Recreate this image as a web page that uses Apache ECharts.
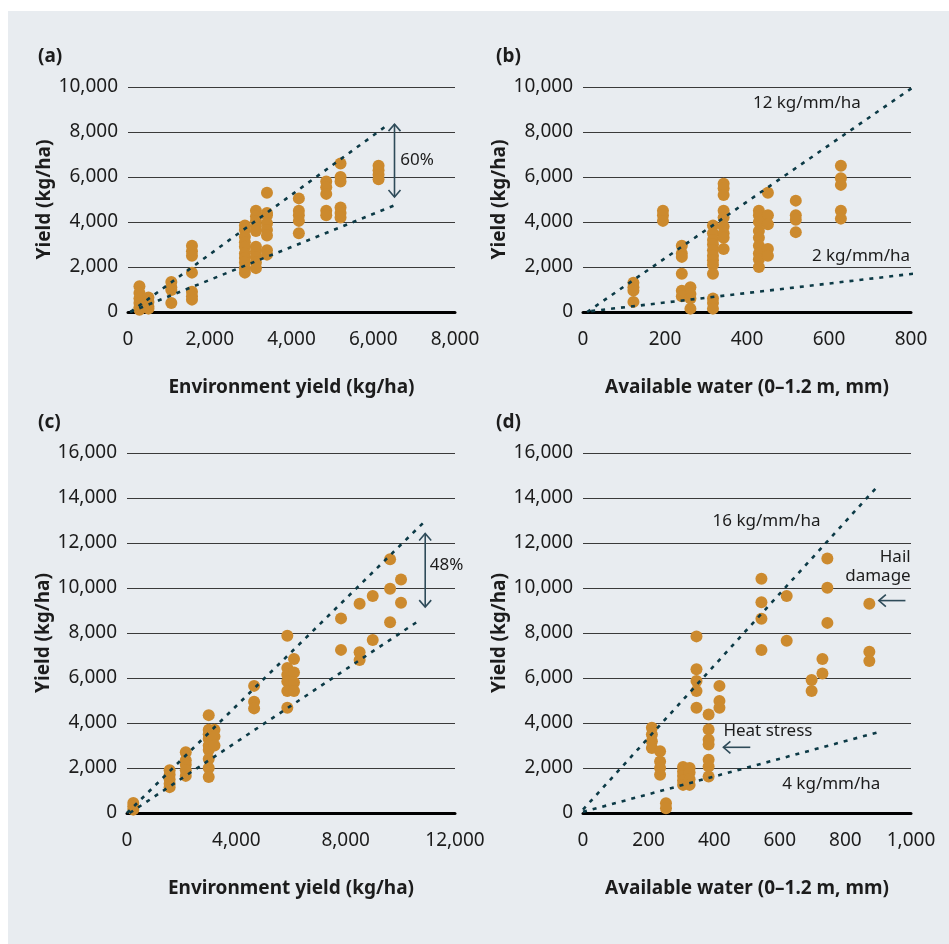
<!DOCTYPE html>
<html><head><meta charset="utf-8">
<script src="https://cdn.jsdelivr.net/npm/echarts@6/dist/echarts.min.js"></script>
<style>
html,body{margin:0;padding:0;background:#fff;}
#bg{position:absolute;left:8px;top:11px;width:941px;height:933px;background:#e8ecf0;}
#c{position:absolute;left:0;top:0;width:949px;height:944px;}
</style>
</head><body><div id="bg"></div><div id="c"></div>
<script>
// ---- Panel (a): environment yield vs yield ----
const aX = [280, 500, 1060, 1565, 2860, 3130, 3400, 4180, 4850, 5200, 6130];
const aY = [
  [1150, 850, 600, 400, 200, 100],
  [650, 450, 250, 150],
  [1330, 1100, 980, 400],
  [2950, 2700, 2500, 1750, 900, 700, 550],
  [3850, 3650, 3350, 3100, 2900, 2600, 2400, 2200, 1950, 1750],
  [4500, 4250, 4050, 3800, 3600, 2900, 2700, 2450, 2200, 1950],
  [5300, 4400, 4300, 3950, 3650, 3400, 2750, 2550],
  [5050, 4500, 4300, 4050, 3500],
  [5800, 5550, 5250, 4500, 4300],
  [6600, 6000, 5800, 4650, 4400, 4200],
  [6500, 6300, 6100, 5900]
];
const aUpper = [[60, 0], [6350, 8310]];
const aLower = [[50, 0], [6550, 4760]];

// ---- Panel (b): available water vs yield ----
const bX = [123, 195, 241, 262, 317, 343, 429, 451, 519, 629];
const bY = [
  [1300, 1100, 950, 450],
  [4500, 4300, 4050],
  [2950, 2600, 2450, 1700, 950, 700],
  [1100, 800, 600, 150],
  [3850, 3500, 3200, 3000, 2750, 2500, 2300, 2100, 1700, 600, 400, 150],
  [5700, 5500, 5200, 4500, 4200, 3800, 3500, 3300, 2800],
  [4500, 4300, 4000, 3600, 3300, 2950, 2600, 2350, 2000],
  [5300, 4300, 3900, 2800, 2500],
  [4950, 4300, 4100, 3550],
  [6500, 5950, 5650, 4500, 4150]
];
const bUpper = [[10, 0], [805, 9990]];
const bLower = [[20, 40], [805, 1700]];

// ---- Panel (c): environment yield vs yield ----
const cX = [230, 1560, 2150, 2990, 3200, 4650, 5865, 6110, 7830, 8510, 8990, 9625, 10025];
const cY = [
  [450, 300, 150],
  [1900, 1700, 1500, 1300, 1150],
  [2700, 2350, 2150, 1900, 1650],
  [4350, 3700, 3500, 3300, 3000, 2800, 2400, 2000, 1600],
  [3700, 3400, 3000],
  [5650, 4950, 4650],
  [7880, 6450, 6150, 5850, 5420, 4680],
  [6840, 6240, 5800, 5420],
  [8650, 7250],
  [9300, 7140, 6800],
  [9640, 7690],
  [11280, 9970, 8480],
  [10380, 9340]
];
const cUpper = [[0, 0], [10900, 12970]];
const cLower = [[100, 0], [10720, 8580]];

// ---- Panel (d): available water vs yield ----
const dX = [210, 235, 253, 305, 325, 346, 383, 416, 544, 621, 697, 730, 745, 873];
const dY = [
  [3790, 3490, 3190, 2890],
  [2740, 2290, 2000, 1700],
  [430, 210],
  [2050, 1850, 1650, 1450, 1250],
  [2000, 1800, 1500, 1250],
  [7850, 6390, 5870, 5420, 4680],
  [4380, 3710, 3260, 3040, 2370, 2070, 1620],
  [5650, 4980, 4680],
  [10410, 9370, 8630, 7240],
  [9640, 7660],
  [5910, 5420],
  [6840, 6200],
  [11310, 10010, 8450],
  [9300, 7170, 6760]
];
const dUpper = [[0, 150], [898, 14520]];
const dLower = [[0, 50], [896, 3575]];

const panelLabels = ['(a)', '(b)', '(c)', '(d)'];
const xNames = ['Environment yield (kg/ha)', 'Available water (0\u20131.2 m, mm)', 'Environment yield (kg/ha)', 'Available water (0\u20131.2 m, mm)'];
const yName = 'Yield (kg/ha)';

function pairs(xs, ys) {
  const out = [];
  xs.forEach((x, i) => ys[i].forEach(y => out.push([x, y])));
  return out;
}

const FONT = 'Noto Sans';
const TXT = '#1c1c1c';
const DOT = '#cc8a2e';
const DASH = '#0c3a46';
const fmt = v => v.toLocaleString('en-US');

const grids = [
  {left: 128, top: 87, width: 327, height: 225},
  {left: 583, top: 87, width: 328, height: 225},
  {left: 127, top: 453, width: 328, height: 360},
  {left: 583, top: 453, width: 328, height: 360}
];
const xCfg = [
  {max: 8000, interval: 2000},
  {max: 800, interval: 200},
  {max: 12000, interval: 4000},
  {max: 1000, interval: 200}
];
const yCfg = [{max: 10000}, {max: 10000}, {max: 16000}, {max: 16000}];

const xAxes = xCfg.map((c, i) => ({
  type: 'value', gridIndex: i, min: 0, max: c.max, interval: c.interval,
  name: xNames[i], nameLocation: 'middle', nameGap: 66,
  nameTextStyle: {fontFamily: FONT, fontSize: 19, fontWeight: 'bold', color: TXT},
  axisLine: {show: true, onZero: false, lineStyle: {color: '#000', width: 3}},
  axisTick: {show: false},
  splitLine: {show: false},
  axisLabel: {fontFamily: FONT, fontSize: 19, color: TXT, margin: 18, formatter: fmt, showMaxLabel: true}
}));
const yAxes = yCfg.map((c, i) => ({
  type: 'value', gridIndex: i, min: 0, max: c.max, interval: 2000,
  name: yName, nameLocation: 'middle', nameGap: 74, nameRotate: 90,
  nameTextStyle: {fontFamily: FONT, fontSize: 19, fontWeight: 'bold', color: TXT},
  axisLine: {show: false}, axisTick: {show: false},
  splitLine: {show: true, lineStyle: {color: '#3a3a3a', width: 1}},
  axisLabel: {fontFamily: FONT, fontSize: 19, color: TXT, margin: 10, formatter: fmt}
}));

const scatterSets = [pairs(aX, aY), pairs(bX, bY), pairs(cX, cY), pairs(dX, dY)];
const lineSets = [[aUpper, aLower], [bUpper, bLower], [cUpper, cLower], [dUpper, dLower]];

const series = [];
scatterSets.forEach((d, i) => {
  series.push({
    type: 'scatter', xAxisIndex: i, yAxisIndex: i, data: d, symbolSize: 12,
    itemStyle: {color: DOT, opacity: 1}, z: 2, silent: true
  });
});
lineSets.forEach((ls, i) => {
  ls.forEach(l => series.push({
    type: 'line', xAxisIndex: i, yAxisIndex: i, data: l, symbol: 'none', z: 5,
    lineStyle: {color: DASH, width: 2.6, type: [4, 6]}, silent: true, clip: false
  }));
});

const chart = echarts.init(document.getElementById('c'), null, {renderer: 'canvas'});
chart.setOption({
  animation: false,
  textStyle: {fontFamily: FONT},
  grid: grids, xAxis: xAxes, yAxis: yAxes, series: series
});

function px(gi, x, y) { return chart.convertToPixel({gridIndex: gi}, [x, y]); }
const ARW = '#2e4b59';
const g = [];
function text(gi, x, y, s, align, size) {
  const p = px(gi, x, y);
  g.push({type: 'text', x: p[0], y: p[1], style: {text: s, fill: TXT, font: (size || 17) + 'px "Noto Sans"', align: align || 'left', verticalAlign: 'middle'}, z: 10});
}
function vArrow(gi, x, y1, y2) {
  const a = px(gi, x, y1), b = px(gi, x, y2);
  g.push({type: 'line', shape: {x1: a[0], y1: a[1], x2: b[0], y2: b[1]}, style: {stroke: ARW, lineWidth: 1.6}, z: 10});
  g.push({type: 'polyline', shape: {points: [[a[0] - 6, a[1] + 7], [a[0], a[1]], [a[0] + 6, a[1] + 7]]}, style: {stroke: ARW, lineWidth: 1.6, fill: null}, z: 10});
  g.push({type: 'polyline', shape: {points: [[b[0] - 6, b[1] - 7], [b[0], b[1]], [b[0] + 6, b[1] - 7]]}, style: {stroke: ARW, lineWidth: 1.6, fill: null}, z: 10});
}
function hArrow(gi, x1, x2, y) {
  const a = px(gi, x1, y), b = px(gi, x2, y);
  g.push({type: 'line', shape: {x1: a[0], y1: a[1], x2: b[0], y2: b[1]}, style: {stroke: ARW, lineWidth: 1.6}, z: 10});
  g.push({type: 'polyline', shape: {points: [[a[0] + 7, a[1] - 6], [a[0], a[1]], [a[0] + 7, a[1] + 6]]}, style: {stroke: ARW, lineWidth: 1.6, fill: null}, z: 10});
}

// panel labels
const labelPos = [[38, 57], [496, 57], [38, 423], [496, 423]];
panelLabels.forEach((s, i) => g.push({type: 'text', x: labelPos[i][0], y: labelPos[i][1], style: {text: s, fill: TXT, font: 'bold 19px "Noto Sans"', verticalAlign: 'middle'}, z: 10}));

// (a)
vArrow(0, 6520, 8350, 5110);
text(0, 6660, 6760, '60%', 'left', 17);
// (b)
text(1, 546, 9290, '12 kg/mm/ha', 'center', 17);
text(1, 678, 2490, '2 kg/mm/ha', 'center', 17);
// (c)
vArrow(2, 10910, 12420, 9150);
text(2, 11080, 11010, '48%', 'left', 17);
// (d)
text(3, 395, 12960, '16 kg/mm/ha', 'left', 17);
text(3, 999, 11350, 'Hail', 'right', 17);
text(3, 999, 10540, 'damage', 'right', 17);
hArrow(3, 902, 983, 9440);
text(3, 428, 3620, 'Heat stress', 'left', 17);
hArrow(3, 428, 510, 2920);
text(3, 757, 1300, '4 kg/mm/ha', 'center', 17);

chart.setOption({graphic: g});
</script></body></html>
